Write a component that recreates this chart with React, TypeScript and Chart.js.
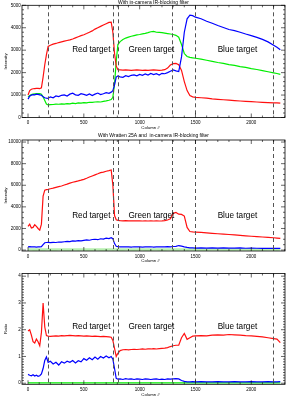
import { useEffect, useRef } from "react";
import { Chart, registerables } from "chart.js";
Chart.register(...registerables);

const FONT = '"Liberation Sans", Arial, sans-serif';

const COLUMNS = [0, 15, 30, 45, 60, 75, 90, 105, 120, 135, 150, 165, 180,
  200, 225, 250, 275, 300, 325, 350, 375, 400, 425, 450, 475, 500, 525, 550, 575, 600, 625, 650, 675, 700, 725,
  745, 760, 775, 790, 805,
  825, 850, 875, 900, 925, 950, 975, 1000, 1025, 1050, 1075, 1100, 1125, 1150, 1175, 1200, 1225, 1250, 1275, 1300, 1325, 1350, 1375, 1400, 1425, 1450, 1475,
  1500, 1550, 1600, 1650, 1700, 1750, 1800, 1850, 1900, 1950, 2000, 2050, 2100, 2150, 2200,
  2230, 2260];

const P1_RED = [1000, 1200, 1260, 1280, 1290, 1300, 1300, 1290, 1320, 1800, 2350, 2800, 3170,
  3220, 3270, 3300, 3340, 3370, 3400, 3430, 3460, 3500, 3550, 3600, 3650, 3690, 3740, 3800, 3860, 3940, 4000, 4060, 4120, 4180, 4240,
  4250, 3800, 2850, 2300, 2130,
  2120, 2110, 2120, 2110, 2100, 2110, 2120, 2110, 2100, 2110, 2100, 2110, 2120, 2110, 2100, 2110, 2130, 2200, 2340, 2400, 2410, 2350, 2100, 1600, 1200, 980, 920,
  900, 880, 860, 830, 810, 790, 770, 750, 735, 720, 705, 690, 675, 665, 650,
  655, 640];
const P1_GREEN = [920, 980, 1020, 1040, 1050, 1060, 1070, 1060, 1040, 920, 760, 600, 560,
  570, 580, 600, 590, 610, 600, 620, 610, 640, 620, 650, 640, 660, 650, 680, 670, 690, 700, 690, 720, 740, 770,
  800, 900, 1500, 2500, 3250,
  3380, 3480, 3540, 3580, 3620, 3650, 3680, 3700, 3730, 3750, 3780, 3820, 3840, 3800, 3790, 3780, 3760, 3740, 3720, 3700, 3660, 3580, 3250, 2850, 2720, 2680, 2660,
  2640, 2600, 2550, 2500, 2450, 2410, 2360, 2320, 2270, 2230, 2180, 2140, 2090, 2040, 1990,
  1960, 1920];
const P1_BLUE = [820, 950, 1000, 1020, 1010, 1040, 1030, 1010, 990, 920, 880, 860, 850,
  920, 880, 960, 930, 990, 1010, 960, 1040, 1080, 1010, 990, 1060, 1030, 990, 1050, 980, 1040, 1090, 1020, 1060, 1110, 1080,
  1130, 1200, 1450, 1800, 1850,
  1810, 1790, 1860, 1820, 1880, 1900, 1860, 1920, 1880, 1940, 1890, 1960, 1910, 1950, 1890, 1970, 1950, 2000, 2060, 2120, 2080, 2050, 2700, 3800, 4400, 4560, 4540,
  4470, 4400, 4290, 4200, 4100, 4010, 3920, 3870, 3800, 3720, 3650, 3570, 3480, 3370, 3220,
  3130, 3020];

const P2_RED = [2200, 2400, 2050, 2100, 2350, 2200, 2000, 1850, 2400, 5000, 5550, 5600, 5620,
  5680, 5730, 5800, 5870, 5930, 6020, 6100, 6200, 6280, 6340, 6400, 6470, 6550, 6650, 6760, 6860, 6960, 7060, 7170, 7220, 7300, 7360,
  7420, 6000, 3200, 2800, 2750,
  2720, 2710, 2720, 2710, 2700, 2710, 2700, 2700, 2690, 2700, 2690, 2700, 2690, 2700, 2690, 2700, 2720, 2780, 2900, 3400, 3480, 3320, 3300, 3150, 2100, 1720, 1690,
  1670, 1630, 1590, 1550, 1510, 1480, 1440, 1400, 1360, 1320, 1280, 1250, 1210, 1170, 1140,
  1110, 1080];
const P2_GREEN = [40, 60, 50, 45, 55, 40, 50, 60, 45, 50, 40, 55, 50,
  45, 55, 40, 50, 60, 45, 50, 40, 55, 50, 45, 60, 50, 40, 55, 45, 50, 60, 45, 50, 40, 55,
  50, 45, 60, 50, 40,
  55, 45, 50, 60, 40, 50, 45, 55, 50, 40, 60, 45, 50, 55, 40, 50, 45, 60, 50, 45, 55, 40, 50, 60, 45, 50, 55,
  40, 50, 45, 60, 50, 40, 55, 45, 50, 60, 45, 50, 40, 55, 50,
  45, 50];
const P2_BLUE = [300, 320, 290, 310, 300, 280, 300, 290, 310, 500, 680, 700, 720,
  690, 720, 700, 750, 730, 770, 800, 780, 850, 830, 870, 850, 900, 940, 910, 980, 1000, 960, 1050, 1020, 1100, 1070,
  1150, 1050, 600, 350, 320,
  300, 310, 290, 300, 280, 310, 290, 300, 280, 300, 290, 310, 280, 300, 290, 310, 290, 320, 300, 330, 350, 420, 360, 300, 250, 210, 200,
  190, 210, 180, 200, 190, 210, 180, 190, 200, 170, 180, 170, 160, 170, 150,
  160, 150];

const P3_RED = [1.95, 2.0, 1.8, 1.55, 1.5, 1.65, 1.55, 1.4, 1.9, 3.0, 2.1, 1.78, 1.76,
  1.75, 1.76, 1.77, 1.76, 1.78, 1.77, 1.78, 1.79, 1.78, 1.77, 1.78, 1.77, 1.76, 1.77, 1.76, 1.75, 1.76, 1.75, 1.74, 1.75, 1.74, 1.73,
  1.72, 1.6, 1.3, 1.0, 1.12,
  1.22, 1.25, 1.26, 1.25, 1.26, 1.27, 1.26, 1.27, 1.28, 1.27, 1.28, 1.28, 1.29, 1.28, 1.29, 1.30, 1.31, 1.33, 1.37, 1.40, 1.42, 1.42, 1.70, 1.86, 1.64, 1.70, 1.76,
  1.77, 1.78, 1.77, 1.80, 1.81, 1.80, 1.82, 1.81, 1.80, 1.78, 1.77, 1.75, 1.73, 1.70, 1.67,
  1.65, 1.52];
const P3_GREEN = [0.01, 0.01, 0.01, 0.01, 0.01, 0.01, 0.01, 0.01, 0.01, 0.01, 0.01, 0.01, 0.01,
  0.01, 0.01, 0.01, 0.01, 0.01, 0.01, 0.01, 0.01, 0.01, 0.01, 0.01, 0.01, 0.01, 0.01, 0.01, 0.01, 0.01, 0.01, 0.01, 0.01, 0.01, 0.01,
  0.01, 0.01, 0.01, 0.01, 0.01,
  0.01, 0.01, 0.01, 0.01, 0.01, 0.01, 0.01, 0.01, 0.01, 0.01, 0.01, 0.01, 0.01, 0.01, 0.01, 0.01, 0.01, 0.01, 0.01, 0.01, 0.01, 0.01, 0.01, 0.01, 0.01, 0.01, 0.01,
  0.01, 0.01, 0.01, 0.01, 0.01, 0.01, 0.01, 0.01, 0.01, 0.01, 0.01, 0.01, 0.01, 0.01, 0.01,
  0.01, 0.01];
const P3_BLUE = [0.33, 0.30, 0.28, 0.32, 0.27, 0.30, 0.26, 0.28, 0.35, 0.55, 0.85, 0.98, 0.78,
  0.82, 0.72, 0.78, 0.68, 0.80, 0.75, 0.82, 0.78, 0.85, 0.76, 0.84, 0.80, 0.92, 0.86, 0.95, 0.88, 0.98, 0.90, 1.00, 0.94, 1.02, 0.95,
  1.00, 0.90, 0.55, 0.18, 0.15,
  0.16, 0.14, 0.17, 0.15, 0.16, 0.14, 0.16, 0.15, 0.14, 0.16, 0.15, 0.14, 0.15, 0.16, 0.14, 0.15, 0.14, 0.16, 0.15, 0.16, 0.17, 0.16, 0.10, 0.07, 0.05, 0.05, 0.06,
  0.05, 0.06, 0.05, 0.05, 0.06, 0.05, 0.05, 0.06, 0.05, 0.05, 0.06, 0.05, 0.05, 0.06, 0.05,
  0.05, 0.06];

const X_TICKS = [0, 500, 1000, 1500, 2000];
const P1_Y_TICKS = [0, 1000, 2000, 3000, 4000, 5000];
const P2_Y_TICKS = [0, 2000, 4000, 6000, 8000, 10000];
const P3_Y_TICKS = [0, 1, 2, 3, 4];
const DIVIDERS = [180, 758, 803, 1292, 1497, 2192];
const TARGET_LABELS = ["Red target", "Green target", "Blue target"];
const TARGET_X = [567, 1105, 1876];
const TITLES = ["With in-camera IR-blocking filter", "With Wratten 25A and  in-camera IR-blocking filter", ""];
const Y_TITLES = ["Intensity", "Intensity", "Ratio"];
const X_TITLE = "Column #";

type Panel = {
  top: number; height: number; boxTop: number; boxBottom: number;
  yMin: number; yMax: number; yTicks: number[]; yMinor: number;
  title: string; titleGap: number; yTitle: string; labelY: number;
  red: number[]; green: number[]; blue: number[]; greenColor: string; greenWidth: number;
};

const PANELS: Panel[] = [
  { top: 0, height: 130, boxTop: 5.3, boxBottom: 117.5, yMin: 0, yMax: 5000, yTicks: P1_Y_TICKS, yMinor: 200,
    title: TITLES[0], titleGap: 2.2, yTitle: Y_TITLES[0], labelY: 3010,
    red: P1_RED, green: P1_GREEN, blue: P1_BLUE, greenColor: "#00ee00", greenWidth: 1.2 },
  { top: 130, height: 135, boxTop: 10, boxBottom: 121, yMin: -85, yMax: 10190, yTicks: P2_Y_TICKS, yMinor: 500,
    title: TITLES[1], titleGap: 4.5, yTitle: Y_TITLES[1], labelY: 3220,
    red: P2_RED, green: P2_GREEN, blue: P2_BLUE, greenColor: "#b8f0b0", greenWidth: 2.6 },
  { top: 265, height: 135, boxTop: 8.5, boxBottom: 119.3, yMin: -0.04, yMax: 4.1, yTicks: P3_Y_TICKS, yMinor: 0.1,
    title: TITLES[2], titleGap: 4, yTitle: Y_TITLES[2], labelY: 2.11,
    red: P3_RED, green: P3_GREEN, blue: P3_BLUE, greenColor: "#00ee00", greenWidth: 1.2 },
];

const LEFT = 22;
const RIGHT = 285;
const W = 293;

function pts(ys: number[]) {
  return COLUMNS.map((x, i) => ({ x, y: ys[i] }));
}

function makeDecor(p: Panel) {
  return {
    id: "decor",
    afterDatasetsDraw(chart: any) {
      const { ctx, chartArea: a, scales } = chart;
      const xs = scales.x, ys = scales.y;
      ctx.save();
      // dashed dividers
      ctx.strokeStyle = "#555";
      ctx.lineWidth = 1;
      ctx.setLineDash([4, 3]);
      DIVIDERS.forEach((v) => {
        const px = Math.round(xs.getPixelForValue(v)) + 0.5;
        ctx.beginPath();
        ctx.moveTo(px, a.top);
        ctx.lineTo(px, a.bottom);
        ctx.stroke();
      });
      ctx.setLineDash([]);
      // box
      ctx.strokeStyle = "#000";
      ctx.lineWidth = 0.8;
      ctx.strokeRect(a.left, a.top, a.right - a.left, a.bottom - a.top);
      // ticks, inward on all four sides
      ctx.lineWidth = 0.6;
      ctx.beginPath();
      for (let v = 0; v <= xs.max; v += 100) {
        const px = xs.getPixelForValue(v);
        const len = v % 500 === 0 ? 4 : 2;
        ctx.moveTo(px, a.bottom); ctx.lineTo(px, a.bottom - len);
        ctx.moveTo(px, a.top); ctx.lineTo(px, a.top + len);
      }
      const nMinor = Math.round((p.yTicks[1] - p.yTicks[0]) / p.yMinor);
      for (let k = 0; k <= nMinor * (p.yTicks.length - 1); k++) {
        const v = p.yTicks[0] + k * p.yMinor;
        const py = ys.getPixelForValue(v);
        const len = k % nMinor === 0 ? 4 : 2;
        ctx.moveTo(a.left, py); ctx.lineTo(a.left + len, py);
        ctx.moveTo(a.right, py); ctx.lineTo(a.right - len, py);
      }
      ctx.stroke();
      // tick labels
      ctx.fillStyle = "#000";
      ctx.font = `4.5px ${FONT}`;
      ctx.textBaseline = "middle";
      ctx.textAlign = "center";
      X_TICKS.forEach((v) => ctx.fillText(String(v), xs.getPixelForValue(v), a.bottom + 5.6));
      ctx.textAlign = "right";
      p.yTicks.forEach((v) => ctx.fillText(String(v), a.left - 1.2, ys.getPixelForValue(v)));
      // target labels
      ctx.font = `8.2px ${FONT}`;
      ctx.textAlign = "center";
      TARGET_LABELS.forEach((t, i) => {
        ctx.fillText(t, xs.getPixelForValue(TARGET_X[i]), ys.getPixelForValue(p.labelY));
      });
      // titles
      ctx.font = `5px ${FONT}`;
      if (p.title) ctx.fillText(p.title, (a.left + a.right) / 2, a.top - p.titleGap);
      ctx.font = `4.3px ${FONT}`;
      ctx.fillText(X_TITLE, (a.left + a.right) / 2 - 3, a.bottom + 10.2);
      ctx.translate(5.5, (a.top + a.bottom) / 2);
      ctx.rotate(-Math.PI / 2);
      ctx.fillText(p.yTitle, 0, 0);
      ctx.restore();
    },
  };
}

function PanelChart({ p }: { p: Panel }) {
  const ref = useRef<HTMLCanvasElement>(null);
  useEffect(() => {
    const canvas = ref.current!;
    const chart = new Chart(canvas, {
      type: "line",
      data: {
        datasets: [
          { data: pts(p.blue), borderColor: "#0000ff", borderWidth: 1.2 },
          { data: pts(p.red), borderColor: "#ff1010", borderWidth: 1.2 },
          { data: pts(p.green), borderColor: p.greenColor, borderWidth: p.greenWidth },
        ].map((d) => ({ ...d, pointRadius: 0, tension: 0, fill: false })),
      },
      options: {
        animation: false,
        responsive: false,
        devicePixelRatio: 1,
        layout: { padding: { left: 0, right: W - RIGHT, top: p.boxTop, bottom: 0 } },
        plugins: { legend: { display: false }, tooltip: { enabled: false }, title: { display: false } },
        scales: {
          x: {
            type: "linear", min: -54, max: 2302,
            grid: { display: false }, border: { display: false },
            afterBuildTicks: (s: any) => { s.ticks = X_TICKS.map((v) => ({ value: v })); },
            afterFit: (s: any) => { s.height = p.height - p.boxBottom; },
            ticks: { display: false },
          },
          y: {
            type: "linear", min: p.yMin, max: p.yMax,
            grid: { display: false }, border: { display: false },
            afterBuildTicks: (s: any) => { s.ticks = p.yTicks.map((v) => ({ value: v })); },
            afterFit: (s: any) => { s.width = LEFT; },
            ticks: { display: false },
          },
        },
      },
      plugins: [makeDecor(p)],
    } as any);
    return () => chart.destroy();
  }, [p]);
  return (
    <canvas ref={ref} width={W} height={p.height}
      style={{ position: "absolute", left: 0, top: p.top, width: W, height: p.height }} />
  );
}

export default function App() {
  return (
    <div style={{ position: "absolute", left: 0, top: 0, width: W, height: 400, background: "#fff", overflow: "hidden" }}>
      {PANELS.map((p, i) => <PanelChart key={i} p={p} />)}
    </div>
  );
}
